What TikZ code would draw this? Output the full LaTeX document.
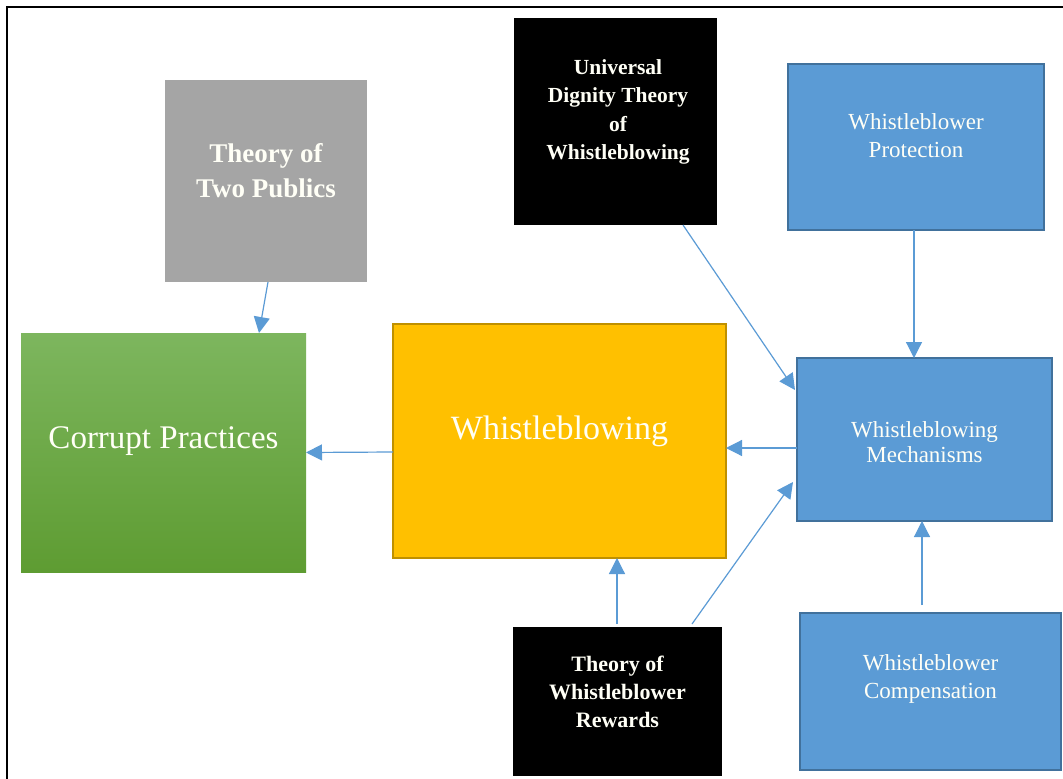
\documentclass[tikz,border=0pt]{standalone}
\usepackage{fontspec}
\setmainfont{Liberation Serif}
\usetikzlibrary{arrows.meta}
\definecolor{linkblue}{HTML}{5B9BD5}
\definecolor{boxblue}{HTML}{5B9BD5}
\definecolor{boxblueedge}{HTML}{41719C}
\definecolor{gold}{HTML}{FFC000}
\definecolor{goldedge}{HTML}{BF9000}
\definecolor{greytheory}{HTML}{A5A5A5}
\definecolor{greentop}{HTML}{7DB65E}
\definecolor{greenbot}{HTML}{5E9C32}
\definecolor{ink}{HTML}{FFFFF6}
\begin{document}
\begin{tikzpicture}[x=1pt,y=-1pt,
  panel/.style={rectangle, inner sep=0pt, outer sep=0pt},
  theorybox/.style={panel, fill=black},
  bluebox/.style={panel, fill=boxblue, draw=boxblueedge, line width=1.6pt},
  boxtext/.style={text=ink, align=center, inner sep=0pt},
  boldtext/.style={boxtext, font=\fontsize{22}{28}\selectfont\bfseries},
  bluetext/.style={boxtext, font=\fontsize{23}{28}\selectfont},
  link/.style={draw=linkblue, line width=1.2pt, -{Triangle[length=16pt,width=16pt]}}
]
\useasboundingbox (0,0) rectangle (1063,779);
\clip (0,0) rectangle (1063,779);
\fill[white] (0,0) rectangle (1063,779);

% outer frame
\draw[line width=2pt] (7,6.5) rectangle (1090,800);

% theory of two publics
\node[panel, fill=greytheory, minimum width=202pt, minimum height=202pt] (publics) at (266,181) {};
\node[boxtext, font=\fontsize{27}{35}\selectfont\bfseries] (publicsText) at (266,171) {Theory of\\Two Publics};

% corrupt practices
\node[panel, top color=greentop, bottom color=greenbot, minimum width=285pt, minimum height=239pt] (corrupt) at (163.5,452.5) {};
\node[boxtext, font=\fontsize{33}{38}\selectfont] (corruptText) at (163.5,441) {Corrupt Practices};

% whistleblowing
\node[panel, fill=gold, draw=goldedge, line width=1.6pt, minimum width=333pt, minimum height=234pt] (wb) at (559.5,441) {};
\node[boxtext, font=\fontsize{34}{40}\selectfont] (wbText) at (559.5,431) {Whistleblowing};

% universal dignity theory
\node[theorybox, minimum width=203pt, minimum height=207pt] (dignity) at (615.5,121.5) {};
\node[boldtext, font=\fontsize{21.5}{28.5}\selectfont\bfseries] (dignityText) at (618,112) {Universal\\Dignity Theory\\of\\Whistleblowing};

% theory of whistleblower rewards
\node[theorybox, minimum width=209pt, minimum height=149pt] (rewards) at (617.5,701.5) {};
\node[boldtext] (rewardsText) at (617.5,692) {Theory of\\Whistleblower\\Rewards};

% blue boxes
\node[bluebox, minimum width=256pt, minimum height=166pt] (protect) at (916,147) {};
\node[bluetext] (protectText) at (916,136) {Whistleblower\\Protection};

\node[bluebox, minimum width=255pt, minimum height=163pt] (mech) at (924.5,439.5) {};
\node[bluetext, font=\fontsize{23}{25.5}\selectfont] (mechText) at (924.5,442) {Whistleblowing\\Mechanisms};

\node[bluebox, minimum width=261pt, minimum height=157pt] (comp) at (930.5,691.5) {};
\node[bluetext] (compText) at (930.5,679) {Whistleblower\\Compensation};

% connectors
\draw[link] ([xshift=2pt]publics.south) -- ([xshift=95.5pt]corrupt.north);
\draw[link] ([yshift=-11pt]wb.west) -- ([yshift=0pt]corrupt.east);
\draw[link] ([yshift=-8.5pt]mech.west) -- ([yshift=-7pt]wb.east);
\draw[link] ([xshift=67.5pt]dignity.south) -- ([xshift=-2pt,yshift=49.5pt]mech.west);
\draw[link] ([xshift=-2pt]protect.south) -- ([xshift=-10.5pt]mech.north);
\draw[link] ([xshift=-8.5pt,yshift=8pt]comp.north) -- ([xshift=-2.5pt]mech.south);
\draw[link] ([xshift=-0.5pt,yshift=3pt]rewards.north) -- ([xshift=57.5pt]wb.south);
\draw[link] ([xshift=74.5pt,yshift=3pt]rewards.north) -- ([xshift=-4pt,yshift=-42.5pt]mech.west);
\end{tikzpicture}
\end{document}
